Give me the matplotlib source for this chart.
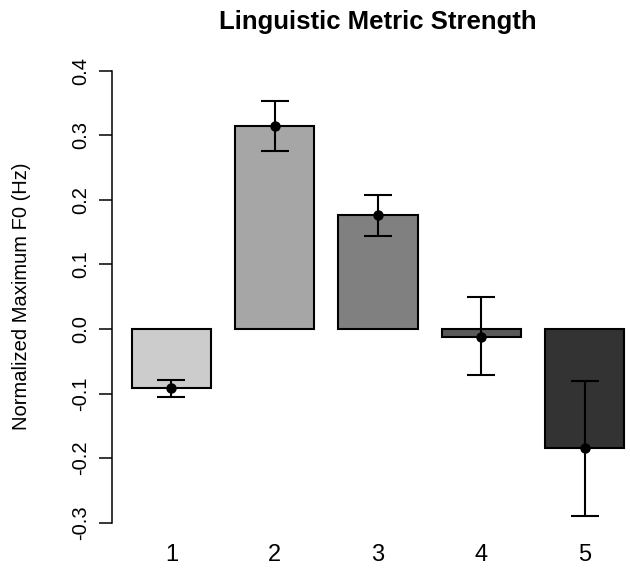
import matplotlib
matplotlib.use("Agg")
import matplotlib.pyplot as plt

plt.rcParams['font.family'] = ['Liberation Sans', 'DejaVu Sans']

# datos
categorias = ['1', '2', '3', '4', '5']
medias = [-0.0915, 0.315, 0.177, -0.012, -0.185]
err_sup = [-0.079, 0.353, 0.208, 0.050, -0.081]
err_inf = [-0.105, 0.276, 0.144, -0.071, -0.290]
colores = ['#CCCCCC', '#A6A6A6', '#808080', '#595959', '#333333']

# posiciones tipo barplot de R (ancho 1, espacio 0.3)
posiciones = [0.8 + 1.3 * i for i in range(len(categorias))]

W, H = 630, 569
fig = plt.figure(figsize=(W / 100, H / 100), dpi=100)
# el area de dibujo se sale un poco por la derecha, como en el original
ax = fig.add_axes([112 / W, (H - 530) / H, 532 / W, 470 / H])

ax.bar(posiciones, medias, width=1.0, color=colores, edgecolor='black', linewidth=1.5, zorder=2)

yerr_bajo = [m - lo for m, lo in zip(medias, err_inf)]
yerr_alto = [hi - m for m, hi in zip(medias, err_sup)]
ax.errorbar(posiciones, medias, yerr=[yerr_bajo, yerr_alto], fmt='o', color='black',
            markersize=6.5, elinewidth=1.5, capsize=10, capthick=1.5, zorder=3)

ax.set_xlim(0.052, 6.748)
ax.set_ylim(-0.3116, 0.417)

for lado in ['top', 'right', 'bottom']:
    ax.spines[lado].set_visible(False)
ax.spines['left'].set_bounds(-0.3, 0.4)
ax.spines['left'].set_linewidth(1.1)

ax.set_yticks([-0.3, -0.2, -0.1, 0.0, 0.1, 0.2, 0.3, 0.4])
ax.set_yticklabels(['-0.3', '-0.2', '-0.1', '0.0', '0.1', '0.2', '0.3', '0.4'],
                   rotation=90, va='center', fontsize=14.5)
ax.tick_params(axis='y', length=9.5, width=1.1, pad=6)

ax.set_xticks(posiciones)
ax.set_xticklabels(categorias, fontsize=17)
ax.tick_params(axis='x', length=0, pad=10)

fig.text(378 / W, 1 - 22 / H, 'Linguistic Metric Strength', ha='center', va='center',
         fontsize=18.5, fontweight='bold')
fig.text(22 / W, 1 - 296 / H, 'Normalized Maximum F0 (Hz)', ha='center', va='center',
         rotation=90, fontsize=14.5)

fig.savefig('out.png', dpi=100)
